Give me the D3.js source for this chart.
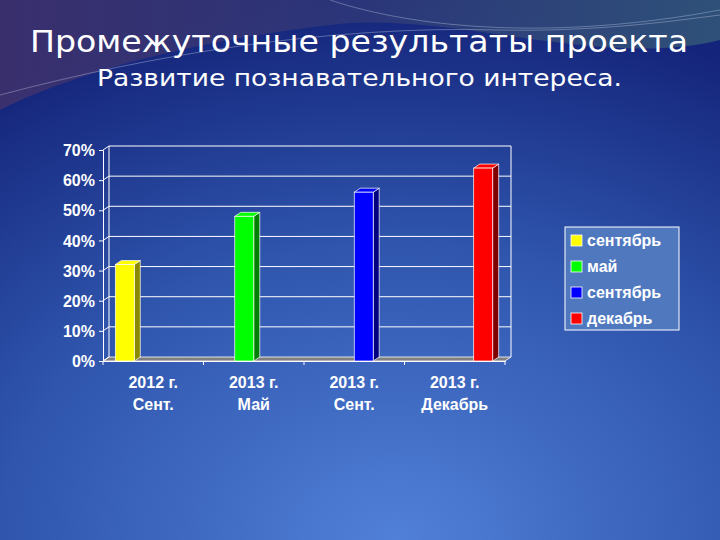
<!DOCTYPE html>
<html><head><meta charset="utf-8">
<script src="https://cdn.jsdelivr.net/npm/d3@7"></script>
<style>body{margin:0;overflow:hidden}svg{display:block}</style>
</head><body>
<script>
const categories = [["2012 г.","Сент."],["2013 г.","Май"],["2013 г.","Сент."],["2013 г.","Декабрь"]];
const seriesNames = ["сентябрь","май","сентябрь","декабрь"];
const seriesColors = ["#ffff00","#00ff00","#0000ff","#ff0000"];
const seriesSide = ["#8a8a00","#008000","#000080","#800000"];
const seriesValues = [[0.32,0,0,0],[0,0.48,0,0],[0,0,0.56,0],[0,0,0,0.64]];
const yTicks = [0,0.1,0.2,0.3,0.4,0.5,0.6,0.7];

const W=720,H=540;
const svg=d3.select("body").append("svg").attr("width",W).attr("height",H);
const defs=svg.append("defs");
const rg=defs.append("radialGradient").attr("id","bg").attr("cx","0.55").attr("cy","1.0").attr("r","1.0");
rg.append("stop").attr("offset","0").attr("stop-color","#5180d8");
rg.append("stop").attr("offset","0.55").attr("stop-color","#2f55ad");
rg.append("stop").attr("offset","1").attr("stop-color","#14247a");
svg.append("rect").attr("width",W).attr("height",H).attr("fill","url(#bg)");
const tg=defs.append("linearGradient").attr("id","top").attr("x1","0").attr("x2","1");
tg.append("stop").attr("offset","0").attr("stop-color","#4a3468");
tg.append("stop").attr("offset","0.5").attr("stop-color","#343c78");
tg.append("stop").attr("offset","1").attr("stop-color","#3a6478");
svg.append("path").attr("d","M0,0 H720 V40 C600,70 450,10 330,25 C200,40 80,70 0,110 Z").attr("fill","url(#top)").attr("opacity",0.7);
svg.append("path").attr("d","M330,0 C420,30 560,40 720,10").attr("fill","none").attr("stroke","#9ab0d0").attr("stroke-width",1).attr("opacity",0.5);
svg.append("path").attr("d","M0,95 C150,55 330,25 500,30 C600,32 680,20 720,15").attr("fill","none").attr("stroke","#c0c8e0").attr("stroke-width",1).attr("opacity",0.4);

svg.append("text").attr("x",30).attr("y",52).attr("fill","#fff")
 .attr("font-family","DejaVu Sans, Arial").attr("font-size",30).attr("textLength",658).attr("lengthAdjust","spacingAndGlyphs").text("Промежуточные результаты проекта");
svg.append("text").attr("x",97).attr("y",86).attr("fill","#fff")
 .attr("font-family","DejaVu Sans, Arial").attr("font-size",23).attr("textLength",525).attr("lengthAdjust","spacingAndGlyphs").text("Развитие познавательного  интереса.");

const x0=103,x1=505,y0=361,y1=150,dx=6,dy=-4;
const y=d3.scaleLinear().domain([0,0.7]).range([y0,y1]);
const xb=d3.scaleBand().domain(d3.range(categories.length)).range([x0,x1]);
const xs=d3.scaleBand().domain(d3.range(seriesNames.length)).range([0,xb.bandwidth()]).paddingOuter(0.65).paddingInner(0);
const g=svg.append("g");
g.append("path").attr("d",`M${x0},${y0}L${x0+dx},${y0+dy}L${x1+dx},${y0+dy}L${x1},${y0}Z`).attr("fill","#808080").attr("stroke","#fff").attr("stroke-width",0.8);
g.append("line").attr("x1",x0+dx).attr("x2",x0+dx).attr("y1",y1+dy).attr("y2",y0+dy).attr("stroke","#fff");
g.append("line").attr("x1",x1+dx).attr("x2",x1+dx).attr("y1",y1+dy).attr("y2",y0+dy).attr("stroke","#fff");
yTicks.forEach(t=>{
  if(t>0) g.append("line").attr("x1",x0+dx).attr("x2",x1+dx).attr("y1",y(t)+dy).attr("y2",y(t)+dy).attr("stroke","#fff").attr("stroke-width",1);
  g.append("line").attr("x1",x0).attr("x2",x0+dx).attr("y1",y(t)).attr("y2",y(t)+dy).attr("stroke","#fff");
});
const ya=d3.axisLeft(y).tickValues(yTicks).tickFormat(d3.format(".0%")).tickSize(4);
const yg=g.append("g").attr("transform",`translate(${x0},0)`).call(ya);
yg.selectAll("path,line").attr("stroke","#fff");
yg.selectAll("text").attr("fill","#fff").attr("font-family","Liberation Sans, Arial").attr("font-weight","bold").attr("font-size",16).attr("dx",-1).attr("dy","0.35em").attr("y",0);
const xa=d3.axisBottom(xb).tickSize(0).tickFormat("");
const xg=g.append("g").attr("transform",`translate(0,${y0})`).call(xa);
xg.select("path").attr("stroke","#fff");
d3.range(categories.length+1).forEach(i=>{
  const xx=i<categories.length?xb(i):x1;
  g.append("line").attr("x1",xx).attr("x2",xx).attr("y1",y0).attr("y2",y0+4).attr("stroke","#fff");
});
categories.forEach((c,i)=>{
  const cx=xb(i)+xb.bandwidth()/2;
  const t=g.append("text").attr("x",cx).attr("y",388).attr("text-anchor","middle").attr("fill","#fff")
   .attr("font-family","Liberation Sans, Arial").attr("font-weight","bold").attr("font-size",16);
  t.append("tspan").attr("x",cx).text(c[0]);
  t.append("tspan").attr("x",cx).attr("dy",22).text(c[1]);
});
seriesValues.forEach((vals,s)=>{
  vals.forEach((v,i)=>{
    if(!v) return;
    const bx=xb(i)+xs(s), bw=xs.bandwidth(), top=y(v);
    g.append("path").attr("d",`M${bx+bw},${top}L${bx+bw+dx},${top+dy}L${bx+bw+dx},${y0+dy}L${bx+bw},${y0}Z`).attr("fill",seriesSide[s]).attr("stroke","#fff").attr("stroke-width",0.7);
    g.append("path").attr("d",`M${bx},${top}L${bx+dx},${top+dy}L${bx+bw+dx},${top+dy}L${bx+bw},${top}Z`).attr("fill",seriesColors[s]).attr("stroke","#fff").attr("stroke-width",0.7);
    g.append("rect").attr("x",bx).attr("y",top).attr("width",bw).attr("height",y0-top).attr("fill",seriesColors[s]).attr("stroke","#fff").attr("stroke-width",0.7);
  });
});
const lg=svg.append("g").attr("transform","translate(565,227)");
lg.append("rect").attr("width",114).attr("height",103).attr("fill","#4f78bf").attr("stroke","#fff").attr("stroke-width",1);
seriesNames.forEach((n,i)=>{
  lg.append("rect").attr("x",6).attr("y",8+i*26).attr("width",11).attr("height",11).attr("fill",seriesColors[i]).attr("stroke","#fff").attr("stroke-width",0.8);
  lg.append("text").attr("x",22).attr("y",19+i*26).attr("fill","#fff").attr("font-family","Liberation Sans, Arial").attr("font-weight","bold").attr("font-size",16).text(n);
});
</script>
</body></html>
